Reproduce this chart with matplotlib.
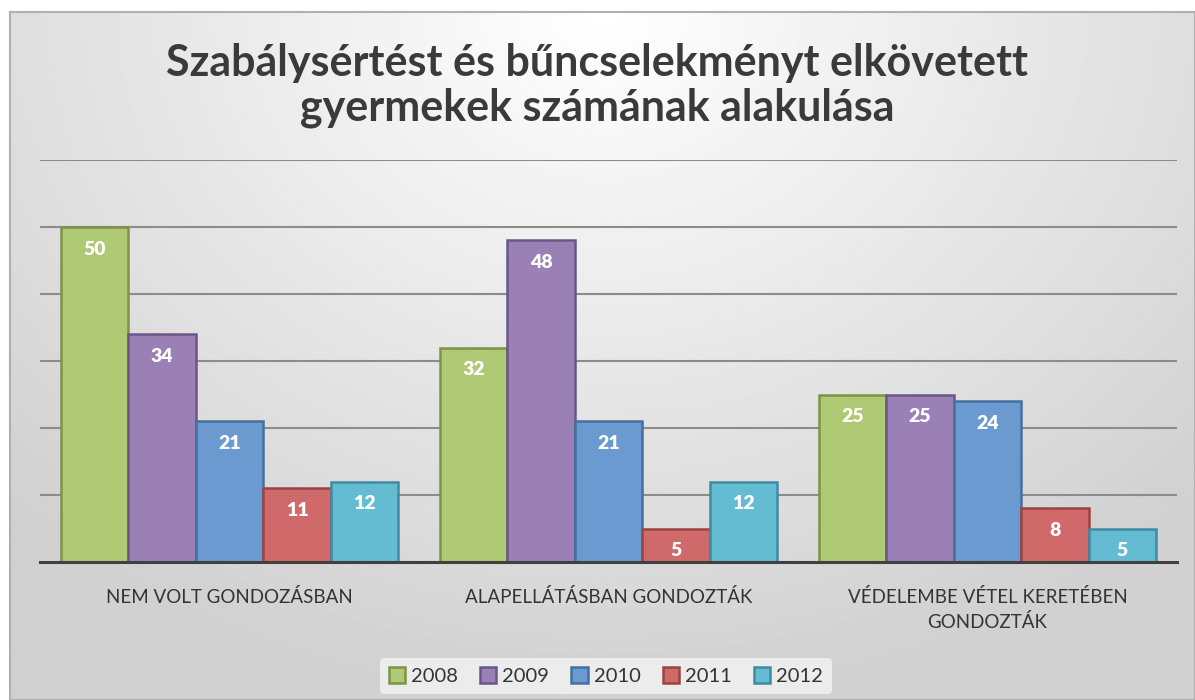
import numpy as np
import matplotlib.pyplot as plt

categories = ['NEM VOLT GONDOZÁSBAN', 'ALAPELLÁTÁSBAN GONDOZTÁK', 'VÉDELEMBE VÉTEL KERETÉBEN\nGONDOZTÁK']
years = ['2008', '2009', '2010', '2011', '2012']
v2008 = [50, 32, 25]
v2009 = [34, 48, 25]
v2010 = [21, 21, 24]
v2011 = [11, 5, 8]
v2012 = [12, 12, 5]
series = [v2008, v2009, v2010, v2011, v2012]

colors = ['#b0c974', '#9a80b5', '#6a9ad0', '#d0696a', '#64bcd2']
edges = ['#7d9347', '#6c5687', '#456f9f', '#9c4344', '#3f8ba0']

plt.rcParams['font.family'] = ['Lato', 'DejaVu Sans']

fig = plt.figure(figsize=(11.95, 7), dpi=100)

# background: radial grey gradient inside a framed panel
bg = fig.add_axes([10 / 1195, 0, 1 - 10 / 1195, 1 - 12 / 700], zorder=0)
yy, xx = np.mgrid[0:1:300j, 0:1:500j]
r = np.sqrt(((xx - 0.5) / 0.7) ** 2 + (yy / 1.0) ** 2)
shade = 1.0 - 0.18 * np.clip(r, 0, 1)
bg.imshow(shade, cmap='gray', vmin=0, vmax=1, aspect='auto', extent=[0, 1, 1, 0])
bg.set_xlim(0, 1)
bg.set_ylim(1, 0)
bg.set_xticks([])
bg.set_yticks([])
for s in bg.spines.values():
    s.set_color('#b0b0b0')
    s.set_linewidth(1.5)

ax = fig.add_axes([40 / 1195, 1 - 562 / 700, 1137 / 1195, (562 - 160) / 700], zorder=1)
ax.patch.set_alpha(0)

x = np.arange(len(categories))
w = 0.178
for i, (vals, c, ec, yr) in enumerate(zip(series, colors, edges, years)):
    pos = x + (i - 2) * w
    bars = ax.bar(pos, vals, width=w, color=c, edgecolor=ec, linewidth=1.8, label=yr, zorder=3)
    for b, v in zip(bars, vals):
        ax.annotate(str(v), (b.get_x() + b.get_width() / 2, v), xytext=(0, -16),
                    textcoords='offset points', ha='center', va='center',
                    color='white', fontsize=14, fontweight='heavy', zorder=4)

ax.set_xlim(-0.5, 2.5)
ax.set_ylim(0, 60)
ax.set_yticks(range(10, 61, 10))
ax.yaxis.grid(True, color='#8c8c8c', linewidth=1.5, zorder=0)
ax.tick_params(axis='y', left=False, labelleft=False)
ax.set_xticks(x)
ax.set_xticklabels(categories, fontsize=13.5, color='#333333', linespacing=1.45)
ax.tick_params(axis='x', length=0, pad=19)
for s in ['top', 'right', 'left']:
    ax.spines[s].set_visible(False)
ax.spines['bottom'].set_color('#404040')
ax.spines['bottom'].set_linewidth(2.2)
ax.spines['bottom'].set_zorder(5)

fig.text(0.5, 0.878, 'Szabálysértést és bűncselekményt elkövetett\ngyermekek számának alakulása',
         ha='center', va='center', fontsize=31, fontweight='bold', color='#3a3a3a', linespacing=1.15)

leg = fig.legend(loc='center', bbox_to_anchor=(0.507, 0.034), ncol=5, frameon=True,
                 fontsize=14.5, handlelength=0.8, handleheight=0.8, handletextpad=0.3,
                 columnspacing=1.1, borderpad=0.45)
leg.get_frame().set_facecolor('#ececec')
leg.get_frame().set_edgecolor('none')
leg.get_frame().set_alpha(1)
for t in leg.get_texts():
    t.set_color('#333333')

fig.savefig('out.png', dpi=100)
